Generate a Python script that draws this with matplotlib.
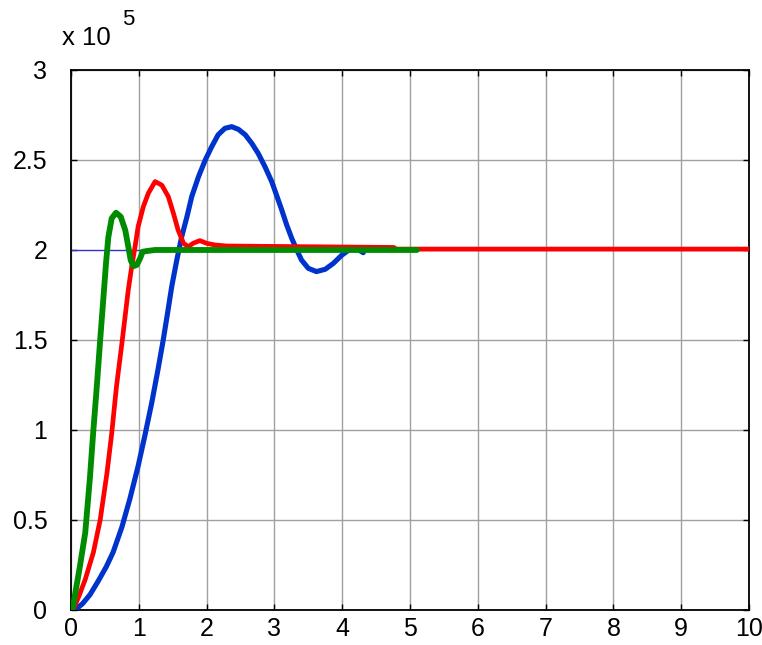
import matplotlib
matplotlib.use("Agg")
import matplotlib.pyplot as plt

plt.rcParams['font.family'] = ['Liberation Sans', 'DejaVu Sans']

# Data (units of 1e5)
blue_x = [0.06, 0.17, 0.28, 0.40, 0.52, 0.62, 0.75, 0.87, 0.99, 1.09, 1.19, 1.28, 1.36, 1.42,
          1.485, 1.56,
          1.63, 1.71, 1.78, 1.88, 1.98, 2.075, 2.17, 2.27, 2.37, 2.47, 2.57, 2.665, 2.76,
          2.86, 2.96, 3.03, 3.11, 3.18, 3.255, 3.33, 3.40, 3.50, 3.62, 3.75, 3.87, 3.99,
          4.115, 4.20, 4.31]
blue_y = [0.0, 0.035, 0.085, 0.16, 0.24, 0.32, 0.46, 0.62, 0.80, 0.97, 1.15, 1.33, 1.50, 1.64,
          1.796, 1.944,
          2.07, 2.185, 2.296, 2.407, 2.50, 2.574, 2.64, 2.676, 2.685, 2.67, 2.64, 2.593, 2.537,
          2.463, 2.38, 2.306, 2.22, 2.14, 2.065, 2.0, 1.944, 1.898, 1.88, 1.893, 1.926, 1.97,
          2.005, 2.01, 1.985]

red_x = [0.03, 0.12, 0.21, 0.33, 0.43, 0.53, 0.60, 0.67, 0.75, 0.845, 0.895, 0.944, 0.99,
         1.066, 1.14, 1.24, 1.34, 1.435, 1.51, 1.58, 1.66, 1.73, 1.80, 1.90, 2.0, 2.12, 2.30,
         4.76, 4.80, 10.0]
red_y = [0.0, 0.08, 0.17, 0.32, 0.50, 0.76, 0.98, 1.24, 1.48, 1.78, 1.907, 2.018, 2.13,
         2.24, 2.315, 2.38, 2.36, 2.296, 2.204, 2.11, 2.037, 2.018, 2.037, 2.052, 2.037, 2.028,
         2.022, 2.014, 2.005, 2.005]

green_x = [0.02, 0.13, 0.21, 0.28, 0.33, 0.38, 0.43, 0.487, 0.516, 0.55, 0.60, 0.664, 0.733,
           0.80, 0.845, 0.88, 0.92, 0.97, 1.02, 1.055, 1.115, 1.24, 5.10]
green_y = [0.0, 0.24, 0.43, 0.74, 1.00, 1.24, 1.50, 1.78, 1.926, 2.07, 2.176, 2.207, 2.185,
           2.11, 2.018, 1.944, 1.91, 1.917, 1.954, 1.99, 1.994, 2.0, 2.0]

ref_x = [0.0, 5.0]
ref_y = [2.0, 2.0]

x_ticks = [0, 1, 2, 3, 4, 5, 6, 7, 8, 9, 10]
y_ticks = [0, 0.5, 1, 1.5, 2, 2.5, 3]
y_tick_labels = ['0', '0.5', '1', '1.5', '2', '2.5', '3']

fig = plt.figure(figsize=(7.62, 6.45), dpi=100)
ax = fig.add_axes([0.0932, 0.0543, 0.8898, 0.8372])

ax.plot(ref_x, ref_y, color='#3333dd', lw=0.9, zorder=2)
ax.plot(blue_x, blue_y, color='#0033cc', lw=3.7, zorder=3,
        solid_capstyle='round', solid_joinstyle='round')
ax.plot(red_x, red_y, color='#ff0000', lw=3.4, zorder=4,
        solid_capstyle='round', solid_joinstyle='round')
ax.plot(green_x, green_y, color='#008c00', lw=4.2, zorder=5,
        solid_capstyle='round', solid_joinstyle='round')

ax.set_xlim(0, 10)
ax.set_ylim(0, 3)
ax.set_xticks(x_ticks)
ax.set_yticks(y_ticks)
ax.set_yticklabels(y_tick_labels)
ax.grid(True, color='#a0a0a0', lw=1.0, zorder=1)
ax.set_axisbelow(True)
ax.tick_params(direction='in', length=4, width=1, labelsize=18, top=True, right=True)
ax.tick_params(axis='y', pad=17)
ax.tick_params(axis='x', pad=5)
for s in ax.spines.values():
    s.set_linewidth(1.3)
    s.set_color('black')

fig.text(0.081, 0.941, 'x 10', fontsize=18.5, ha='left', va='center')
fig.text(0.160, 0.969, '5', fontsize=16, ha='left', va='center')

fig.savefig('out.png', dpi=100)
